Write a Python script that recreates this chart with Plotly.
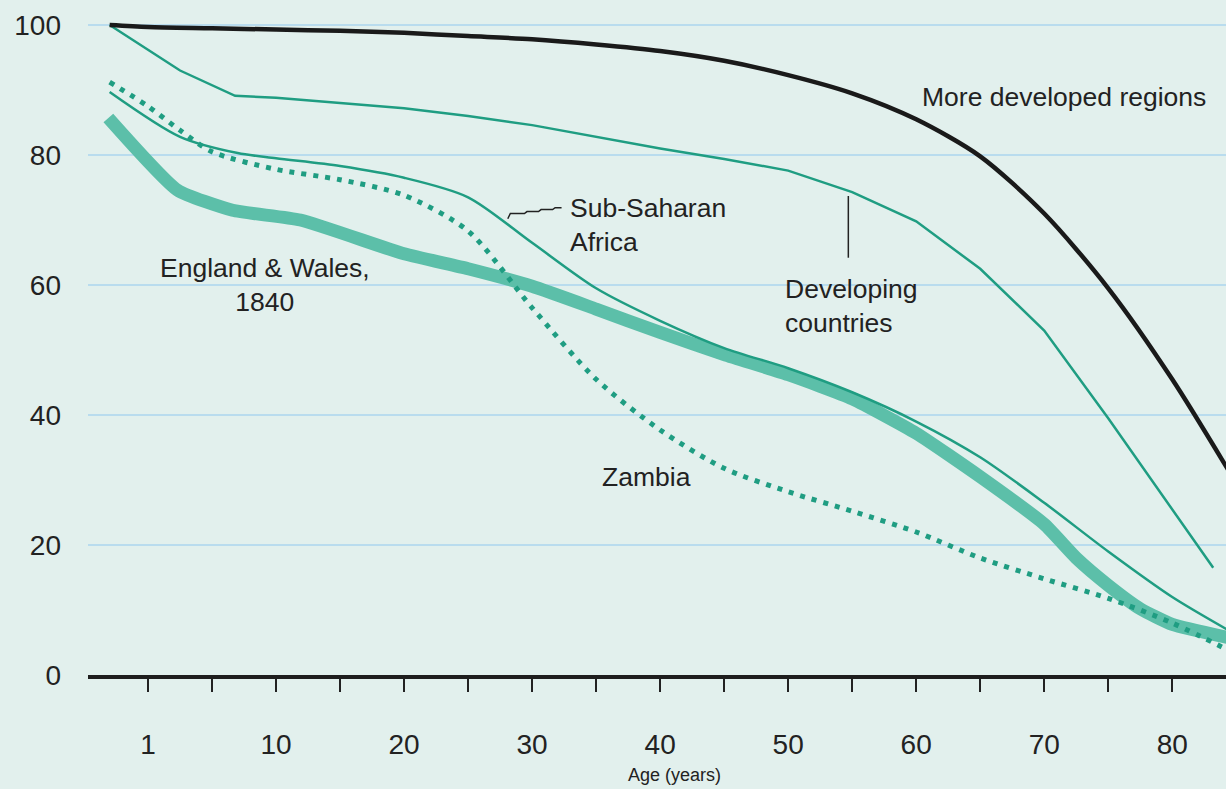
import plotly.graph_objects as go

# x positions on the chart's age axis (the "1" tick sits at 0, the curves start just left of it)
dev_x = [-3, 0, 5, 10, 15, 20, 25, 30, 35, 40, 45, 50, 55, 60, 65, 70, 75, 80, 85]
dev_y = [100, 99.7, 99.5, 99.3, 99.1, 98.8, 98.3, 97.8, 97.0, 96.0, 94.5, 92.3, 89.5, 85.5, 79.8, 71, 59.5, 45.5, 29.5]

developing_x = [-3, 2.5, 6.8, 10, 20, 25, 30, 35, 40, 45, 50, 55, 60, 65, 70, 75, 80, 83.2]
developing_y = [100, 93, 89.1, 88.8, 87.2, 86, 84.6, 82.8, 81, 79.4, 77.6, 74.3, 69.8, 62.5, 53, 39.5, 25.5, 16.5]

ssa_x = [-3, 2.5, 7, 10, 15, 20, 25, 30, 35, 40, 45, 50, 55, 60, 65, 70, 75, 80, 85]
ssa_y = [89.7, 82.8, 80.3, 79.5, 78.3, 76.5, 73.5, 66.5, 59.5, 54.5, 50.3, 47.2, 43.5, 39, 33.5, 26.5, 19, 12, 6.2]

zambia_x = [-3, 0, 2.5, 5, 10, 15, 20, 25, 30, 35, 40, 45, 50, 55, 60, 65, 70, 75, 80, 85]
zambia_y = [91.2, 87.5, 83.8, 80.5, 77.8, 76.2, 73.8, 68.3, 56.5, 45.5, 37.7, 31.8, 28.2, 25.2, 22, 18, 14.8, 11.8, 8, 3.2]

ew_x = [-3.1, 2.3, 6.6, 11.9, 20, 25, 30, 35, 40, 45, 50, 55, 60, 65, 70, 72.5, 75, 77.5, 80, 85]
ew_y = [85.7, 74.6, 71.5, 70, 64.8, 62.5, 59.8, 56.3, 52.7, 49.3, 46.2, 42.5, 37.2, 30.5, 23.2, 18, 13.8, 10.2, 7.8, 5.5]

x_ticks = [0, 5, 10, 15, 20, 25, 30, 35, 40, 45, 50, 55, 60, 65, 70, 75, 80]
x_ticktext = ["1", "", "10", "", "20", "", "30", "", "40", "", "50", "", "60", "", "70", "", "80"]
y_ticks = [0, 20, 40, 60, 80, 100]

BG = "#e2f0ed"
TEAL = "#1f9d82"
TEAL_THICK = "#5cbfa9"
FONT = "Liberation Sans, Arial, sans-serif"

fig = go.Figure()
fig.add_trace(go.Scatter(x=ew_x, y=ew_y, mode="lines", line_shape="spline",
                         line=dict(color=TEAL_THICK, width=13, smoothing=0.5)))
fig.add_trace(go.Scatter(x=zambia_x, y=zambia_y, mode="lines", line_shape="spline",
                         line=dict(color=TEAL, width=5, dash="5px,7px", smoothing=0.8)))
fig.add_trace(go.Scatter(x=ssa_x, y=ssa_y, mode="lines", line_shape="spline",
                         line=dict(color=TEAL, width=2.5, smoothing=0.8)))
fig.add_trace(go.Scatter(x=developing_x, y=developing_y, mode="lines",
                         line=dict(color=TEAL, width=2.5)))
fig.add_trace(go.Scatter(x=dev_x, y=dev_y, mode="lines", line_shape="spline",
                         line=dict(color="#1a1a1a", width=4.5, smoothing=0.8)))

# leader lines for the labels
fig.add_shape(type="line", x0=54.7, x1=54.7, y0=73.7, y1=64.2,
              line=dict(color="#222", width=1.5))
fig.add_shape(type="path",
              path="M 28.1 70.2 L 28.3 71.0 L 29.4 71.0 L 29.6 71.3 L 30.5 71.3 L 30.7 71.6 L 31.6 71.6 L 31.8 71.9 L 32.3 71.9",
              line=dict(color="#222", width=1.5))

labels = [
    dict(x=60.3, y=88.9, text="More developed regions", xanchor="left", align="left"),
    dict(x=32.8, y=69.2, text="Sub-Saharan<br>Africa", xanchor="left", align="left"),
    dict(x=9.1, y=60.0, text="England & Wales,<br>1840", xanchor="center", align="center"),
    dict(x=49.6, y=56.8, text="Developing<br>countries", xanchor="left", align="left"),
    dict(x=38.9, y=30.5, text="Zambia", xanchor="center", align="center"),
]
for a in labels:
    fig.add_annotation(x=a["x"], y=a["y"], text=a["text"], xanchor=a["xanchor"],
                       yanchor="middle", align=a["align"], showarrow=False,
                       font=dict(family=FONT, size=26.5, color="#222"))

fig.add_annotation(x=41.1, xref="x", y=-0.148, yref="paper", text="Age (years)",
                   showarrow=False, xanchor="center", yanchor="middle",
                   font=dict(family=FONT, size=18, color="#222"))

fig.update_xaxes(range=[-4.69, 84.2], tickvals=x_ticks, ticktext=x_ticktext,
                 ticks="outside", ticklen=13, tickwidth=1.5, tickcolor="#222",
                 showline=True, linewidth=3.5, linecolor="#1e1e1e",
                 showgrid=False, zeroline=False, ticklabelstandoff=29,
                 automargin=False,
                 tickfont=dict(family=FONT, size=28, color="#222"))
fig.update_yaxes(range=[0, 103.85], tickvals=y_ticks, ticks="",
                 showgrid=True, gridcolor="#b9dcee", gridwidth=1.5,
                 zeroline=False, showline=False, ticklabelstandoff=26,
                 automargin=False,
                 tickfont=dict(family=FONT, size=28, color="#222"))

fig.update_layout(
    width=1226, height=789,
    margin=dict(l=88, r=0, t=0, b=114),
    paper_bgcolor=BG, plot_bgcolor=BG,
    showlegend=False,
)
fig.write_html("out.html", config={"displayModeBar": False},
               post_script="document.body.style.margin='0';"
                           "document.body.style.overflow='hidden';"
                           "document.body.style.background='#e2f0ed';")
